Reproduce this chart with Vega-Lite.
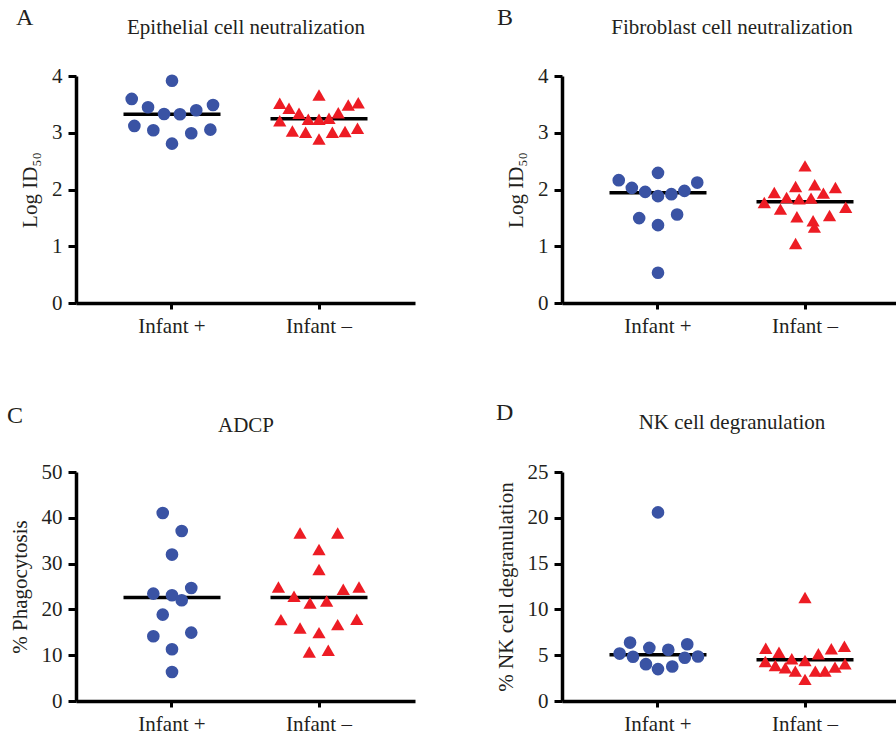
{
 "$schema": "https://vega.github.io/schema/vega-lite/v6.json",
 "padding": {"left": 7, "top": 6, "right": 0, "bottom": 0},
 "background": "white",
 "config": {
  "font": "Liberation Serif",
  "view": {"stroke": null},
  "axis": {"labelFont": "Liberation Serif", "titleFont": "Liberation Serif, DejaVu Serif", "labelColor": "#231f20", "titleColor": "#231f20", "labelFontSize": 21, "titleFontSize": 21, "titleFontWeight": "normal", "domainColor": "#000000", "domainWidth": 3.5, "tickColor": "#000000", "grid": false},
  "axisY": {"tickSize": 8, "tickWidth": 3, "labelPadding": 6, "titlePadding": 11},
  "axisBottom": {"tickSize": 6, "tickWidth": 3, "labelPadding": 6},
  "title": {"font": "Liberation Serif", "fontSize": 24, "fontWeight": "normal", "color": "#231f20", "anchor": "start", "frame": "group", "baseline": "alphabetic", "offset": -14}
 },
 "datasets": {
  "points": [
   {"panel": "A", "group": "Infant +", "jitter": -0.274, "value": 3.596},
   {"panel": "A", "group": "Infant +", "jitter": -0.163, "value": 3.449},
   {"panel": "A", "group": "Infant +", "jitter": -0.054, "value": 3.331},
   {"panel": "A", "group": "Infant +", "jitter": 0.054, "value": 3.326},
   {"panel": "A", "group": "Infant +", "jitter": 0.165, "value": 3.396},
   {"panel": "A", "group": "Infant +", "jitter": 0.279, "value": 3.489},
   {"panel": "A", "group": "Infant +", "jitter": -0.256, "value": 3.120},
   {"panel": "A", "group": "Infant +", "jitter": -0.127, "value": 3.044},
   {"panel": "A", "group": "Infant +", "jitter": 0, "value": 2.808},
   {"panel": "A", "group": "Infant +", "jitter": 0.131, "value": 2.991},
   {"panel": "A", "group": "Infant +", "jitter": 0.261, "value": 3.055},
   {"panel": "A", "group": "Infant +", "jitter": 0, "value": 3.917},
   {"panel": "A", "group": "Infant –", "jitter": -0.267, "value": 3.519},
   {"panel": "A", "group": "Infant –", "jitter": -0.204, "value": 3.431},
   {"panel": "A", "group": "Infant –", "jitter": -0.136, "value": 3.343},
   {"panel": "A", "group": "Infant –", "jitter": 0, "value": 3.665},
   {"panel": "A", "group": "Infant –", "jitter": -0.073, "value": 3.238},
   {"panel": "A", "group": "Infant –", "jitter": 0, "value": 3.238},
   {"panel": "A", "group": "Infant –", "jitter": 0.068, "value": 3.255},
   {"panel": "A", "group": "Infant –", "jitter": 0.131, "value": 3.354},
   {"panel": "A", "group": "Infant –", "jitter": 0.199, "value": 3.489},
   {"panel": "A", "group": "Infant –", "jitter": 0.267, "value": 3.530},
   {"panel": "A", "group": "Infant –", "jitter": -0.267, "value": 3.213},
   {"panel": "A", "group": "Infant –", "jitter": -0.181, "value": 3.032},
   {"panel": "A", "group": "Infant –", "jitter": -0.091, "value": 3.009},
   {"panel": "A", "group": "Infant –", "jitter": 0, "value": 2.891},
   {"panel": "A", "group": "Infant –", "jitter": 0.091, "value": 3.009},
   {"panel": "A", "group": "Infant –", "jitter": 0.177, "value": 3.023},
   {"panel": "A", "group": "Infant –", "jitter": 0.262, "value": 3.079},
   {"panel": "B", "group": "Infant +", "jitter": -0.267, "value": 2.164},
   {"panel": "B", "group": "Infant +", "jitter": 0, "value": 2.293},
   {"panel": "B", "group": "Infant +", "jitter": -0.178, "value": 2.029},
   {"panel": "B", "group": "Infant +", "jitter": -0.087, "value": 1.958},
   {"panel": "B", "group": "Infant +", "jitter": 0, "value": 1.883},
   {"panel": "B", "group": "Infant +", "jitter": 0.091, "value": 1.918},
   {"panel": "B", "group": "Infant +", "jitter": 0.180, "value": 1.976},
   {"panel": "B", "group": "Infant +", "jitter": 0.267, "value": 2.122},
   {"panel": "B", "group": "Infant +", "jitter": -0.128, "value": 1.496},
   {"panel": "B", "group": "Infant +", "jitter": 0, "value": 1.372},
   {"panel": "B", "group": "Infant +", "jitter": 0.130, "value": 1.559},
   {"panel": "B", "group": "Infant +", "jitter": 0, "value": 0.533},
   {"panel": "B", "group": "Infant –", "jitter": 0, "value": 2.416},
   {"panel": "B", "group": "Infant –", "jitter": -0.209, "value": 1.946},
   {"panel": "B", "group": "Infant –", "jitter": -0.064, "value": 2.052},
   {"panel": "B", "group": "Infant –", "jitter": 0.066, "value": 2.082},
   {"panel": "B", "group": "Infant –", "jitter": 0.207, "value": 2.034},
   {"panel": "B", "group": "Infant –", "jitter": -0.277, "value": 1.770},
   {"panel": "B", "group": "Infant –", "jitter": -0.125, "value": 1.858},
   {"panel": "B", "group": "Infant –", "jitter": -0.040, "value": 1.835},
   {"panel": "B", "group": "Infant –", "jitter": 0.041, "value": 1.848},
   {"panel": "B", "group": "Infant –", "jitter": 0.125, "value": 1.936},
   {"panel": "B", "group": "Infant –", "jitter": 0.277, "value": 1.689},
   {"panel": "B", "group": "Infant –", "jitter": -0.167, "value": 1.654},
   {"panel": "B", "group": "Infant –", "jitter": -0.055, "value": 1.519},
   {"panel": "B", "group": "Infant –", "jitter": 0.055, "value": 1.448},
   {"panel": "B", "group": "Infant –", "jitter": 0.167, "value": 1.541},
   {"panel": "B", "group": "Infant –", "jitter": 0.064, "value": 1.337},
   {"panel": "B", "group": "Infant –", "jitter": -0.064, "value": 1.049},
   {"panel": "C", "group": "Infant +", "jitter": -0.063, "value": 41.05},
   {"panel": "C", "group": "Infant +", "jitter": 0.066, "value": 37.12},
   {"panel": "C", "group": "Infant +", "jitter": 0, "value": 31.97},
   {"panel": "C", "group": "Infant +", "jitter": -0.127, "value": 23.45},
   {"panel": "C", "group": "Infant +", "jitter": 0, "value": 23.08},
   {"panel": "C", "group": "Infant +", "jitter": 0.066, "value": 21.99},
   {"panel": "C", "group": "Infant +", "jitter": 0.131, "value": 24.67},
   {"panel": "C", "group": "Infant +", "jitter": -0.063, "value": 18.86},
   {"panel": "C", "group": "Infant +", "jitter": -0.127, "value": 14.13},
   {"panel": "C", "group": "Infant +", "jitter": 0.131, "value": 14.93},
   {"panel": "C", "group": "Infant +", "jitter": 0, "value": 11.29},
   {"panel": "C", "group": "Infant +", "jitter": 0, "value": 6.33},
   {"panel": "C", "group": "Infant –", "jitter": -0.129, "value": 36.68},
   {"panel": "C", "group": "Infant –", "jitter": 0.127, "value": 36.68},
   {"panel": "C", "group": "Infant –", "jitter": 0, "value": 33.06},
   {"panel": "C", "group": "Infant –", "jitter": 0, "value": 28.69},
   {"panel": "C", "group": "Infant –", "jitter": -0.276, "value": 24.89},
   {"panel": "C", "group": "Infant –", "jitter": -0.170, "value": 22.86},
   {"panel": "C", "group": "Infant –", "jitter": -0.061, "value": 21.40},
   {"panel": "C", "group": "Infant –", "jitter": 0.052, "value": 21.83},
   {"panel": "C", "group": "Infant –", "jitter": 0.165, "value": 24.39},
   {"panel": "C", "group": "Infant –", "jitter": 0.272, "value": 24.89},
   {"panel": "C", "group": "Infant –", "jitter": -0.259, "value": 17.77},
   {"panel": "C", "group": "Infant –", "jitter": -0.129, "value": 15.94},
   {"panel": "C", "group": "Infant –", "jitter": 0, "value": 14.93},
   {"panel": "C", "group": "Infant –", "jitter": 0.127, "value": 16.68},
   {"panel": "C", "group": "Infant –", "jitter": 0.257, "value": 17.84},
   {"panel": "C", "group": "Infant –", "jitter": -0.066, "value": 10.70},
   {"panel": "C", "group": "Infant –", "jitter": 0.063, "value": 11.07},
   {"panel": "D", "group": "Infant +", "jitter": 0, "value": 20.59},
   {"panel": "D", "group": "Infant +", "jitter": -0.190, "value": 6.38},
   {"panel": "D", "group": "Infant +", "jitter": -0.059, "value": 5.80},
   {"panel": "D", "group": "Infant +", "jitter": 0.070, "value": 5.59},
   {"panel": "D", "group": "Infant +", "jitter": 0.199, "value": 6.20},
   {"panel": "D", "group": "Infant +", "jitter": -0.261, "value": 5.18},
   {"panel": "D", "group": "Infant +", "jitter": -0.170, "value": 4.83},
   {"panel": "D", "group": "Infant +", "jitter": 0.182, "value": 4.72},
   {"panel": "D", "group": "Infant +", "jitter": 0.272, "value": 4.86},
   {"panel": "D", "group": "Infant +", "jitter": -0.082, "value": 4.02},
   {"panel": "D", "group": "Infant +", "jitter": 0.097, "value": 3.77},
   {"panel": "D", "group": "Infant +", "jitter": 0, "value": 3.48},
   {"panel": "D", "group": "Infant –", "jitter": 0, "value": 11.30},
   {"panel": "D", "group": "Infant –", "jitter": -0.267, "value": 5.76},
   {"panel": "D", "group": "Infant –", "jitter": -0.177, "value": 5.33},
   {"panel": "D", "group": "Infant –", "jitter": 0.091, "value": 5.15},
   {"panel": "D", "group": "Infant –", "jitter": 0.179, "value": 5.70},
   {"panel": "D", "group": "Infant –", "jitter": 0.268, "value": 5.98},
   {"panel": "D", "group": "Infant –", "jitter": -0.270, "value": 4.32},
   {"panel": "D", "group": "Infant –", "jitter": -0.090, "value": 4.61},
   {"panel": "D", "group": "Infant –", "jitter": 0, "value": 4.42},
   {"panel": "D", "group": "Infant –", "jitter": 0.272, "value": 4.07},
   {"panel": "D", "group": "Infant –", "jitter": -0.202, "value": 3.88},
   {"panel": "D", "group": "Infant –", "jitter": -0.134, "value": 3.63},
   {"panel": "D", "group": "Infant –", "jitter": -0.066, "value": 3.26},
   {"panel": "D", "group": "Infant –", "jitter": 0.070, "value": 3.26},
   {"panel": "D", "group": "Infant –", "jitter": 0.136, "value": 3.26},
   {"panel": "D", "group": "Infant –", "jitter": 0.204, "value": 3.70},
   {"panel": "D", "group": "Infant –", "jitter": 0, "value": 2.36}
  ],
  "medians": [
   {"panel": "A", "group": "Infant +", "value": 3.328},
   {"panel": "A", "group": "Infant –", "value": 3.248},
   {"panel": "B", "group": "Infant +", "value": 1.941},
   {"panel": "B", "group": "Infant –", "value": 1.782},
   {"panel": "C", "group": "Infant +", "value": 22.58},
   {"panel": "C", "group": "Infant –", "value": 22.58},
   {"panel": "D", "group": "Infant +", "value": 5.04},
   {"panel": "D", "group": "Infant –", "value": 4.50}
  ]
 },
 "columns": 2,
 "spacing": {"row": 65, "column": 80},
 "concat": [
  {
   "width": 339, "height": 227,
   "title": {"text": "A", "dx": -60},
   "resolve": {"axis": {"x": "independent"}},
   "layer": [
    {
     "data": {"name": "medians"},
     "transform": [{"filter": "datum.panel === 'A'"}],
     "mark": {"type": "tick", "orient": "horizontal", "size": 97, "thickness": 3.5, "color": "#000000", "opacity": 1},
     "encoding": {
      "x": {"field": "group", "type": "nominal", "sort": ["Infant +", "Infant –"], "scale": {"type": "band", "paddingInner": 0, "paddingOuter": 0.153}, "axis": {"orient": "top", "domain": false, "ticks": false, "labels": false, "title": "Epithelial cell neutralization", "titlePadding": 39}},
      "y": {"field": "value", "type": "quantitative", "scale": {"domain": [0, 4], "nice": false}, "axis": {"title": "Log ID₅₀", "values": [0, 1, 2, 3, 4]}}
     }
    },
    {
     "data": {"name": "points"},
     "transform": [{"filter": "datum.panel === 'A'"}],
     "mark": {"type": "point", "filled": true, "opacity": 1, "strokeWidth": 0},
     "encoding": {
      "x": {"field": "group", "type": "nominal", "sort": ["Infant +", "Infant –"], "bandPosition": 0, "scale": {"type": "band", "paddingInner": 0, "paddingOuter": 0.153}, "axis": {"orient": "bottom", "title": null, "labelAngle": 0}},
      "xOffset": {"field": "jitter", "type": "quantitative", "scale": {"domain": [-0.5, 0.5]}},
      "y": {"field": "value", "type": "quantitative", "scale": {"domain": [0, 4], "nice": false}, "axis": {"title": "Log ID₅₀", "values": [0, 1, 2, 3, 4]}},
      "color": {"field": "group", "type": "nominal", "scale": {"domain": ["Infant +", "Infant –"], "range": ["#3A53A4", "#ED1C24"]}, "legend": null},
      "shape": {"field": "group", "type": "nominal", "scale": {"domain": ["Infant +", "Infant –"], "range": ["circle", "triangle-up"]}, "legend": null},
      "size": {"field": "group", "type": "ordinal", "scale": {"domain": ["Infant +", "Infant –"], "range": [160, 175]}, "legend": null}
     }
    }
   ]
  },
  {
   "width": 339, "height": 227,
   "title": {"text": "B", "dx": -65},
   "resolve": {"axis": {"x": "independent"}},
   "layer": [
    {
     "data": {"name": "medians"},
     "transform": [{"filter": "datum.panel === 'B'"}],
     "mark": {"type": "tick", "orient": "horizontal", "size": 97, "thickness": 3.5, "color": "#000000", "opacity": 1},
     "encoding": {
      "x": {"field": "group", "type": "nominal", "sort": ["Infant +", "Infant –"], "scale": {"type": "band", "paddingInner": 0, "paddingOuter": 0.153}, "axis": {"orient": "top", "domain": false, "ticks": false, "labels": false, "title": "Fibroblast cell neutralization", "titlePadding": 39}},
      "y": {"field": "value", "type": "quantitative", "scale": {"domain": [0, 4], "nice": false}, "axis": {"title": "Log ID₅₀", "values": [0, 1, 2, 3, 4]}}
     }
    },
    {
     "data": {"name": "points"},
     "transform": [{"filter": "datum.panel === 'B'"}],
     "mark": {"type": "point", "filled": true, "opacity": 1, "strokeWidth": 0},
     "encoding": {
      "x": {"field": "group", "type": "nominal", "sort": ["Infant +", "Infant –"], "bandPosition": 0, "scale": {"type": "band", "paddingInner": 0, "paddingOuter": 0.153}, "axis": {"orient": "bottom", "title": null, "labelAngle": 0}},
      "xOffset": {"field": "jitter", "type": "quantitative", "scale": {"domain": [-0.5, 0.5]}},
      "y": {"field": "value", "type": "quantitative", "scale": {"domain": [0, 4], "nice": false}, "axis": {"title": "Log ID₅₀", "values": [0, 1, 2, 3, 4]}},
      "color": {"field": "group", "type": "nominal", "scale": {"domain": ["Infant +", "Infant –"], "range": ["#3A53A4", "#ED1C24"]}, "legend": null},
      "shape": {"field": "group", "type": "nominal", "scale": {"domain": ["Infant +", "Infant –"], "range": ["circle", "triangle-up"]}, "legend": null},
      "size": {"field": "group", "type": "ordinal", "scale": {"domain": ["Infant +", "Infant –"], "range": [160, 175]}, "legend": null}
     }
    }
   ]
  },
  {
   "width": 339, "height": 229,
   "title": {"text": "C", "dx": -69},
   "resolve": {"axis": {"x": "independent"}},
   "layer": [
    {
     "data": {"name": "medians"},
     "transform": [{"filter": "datum.panel === 'C'"}],
     "mark": {"type": "tick", "orient": "horizontal", "size": 97, "thickness": 3.5, "color": "#000000", "opacity": 1},
     "encoding": {
      "x": {"field": "group", "type": "nominal", "sort": ["Infant +", "Infant –"], "scale": {"type": "band", "paddingInner": 0, "paddingOuter": 0.153}, "axis": {"orient": "top", "domain": false, "ticks": false, "labels": false, "title": "ADCP", "titlePadding": 37}},
      "y": {"field": "value", "type": "quantitative", "scale": {"domain": [0, 50], "nice": false}, "axis": {"title": "% Phagocytosis", "values": [0, 10, 20, 30, 40, 50]}}
     }
    },
    {
     "data": {"name": "points"},
     "transform": [{"filter": "datum.panel === 'C'"}],
     "mark": {"type": "point", "filled": true, "opacity": 1, "strokeWidth": 0},
     "encoding": {
      "x": {"field": "group", "type": "nominal", "sort": ["Infant +", "Infant –"], "bandPosition": 0, "scale": {"type": "band", "paddingInner": 0, "paddingOuter": 0.153}, "axis": {"orient": "bottom", "title": null, "labelAngle": 0}},
      "xOffset": {"field": "jitter", "type": "quantitative", "scale": {"domain": [-0.5, 0.5]}},
      "y": {"field": "value", "type": "quantitative", "scale": {"domain": [0, 50], "nice": false}, "axis": {"title": "% Phagocytosis", "values": [0, 10, 20, 30, 40, 50]}},
      "color": {"field": "group", "type": "nominal", "scale": {"domain": ["Infant +", "Infant –"], "range": ["#3A53A4", "#ED1C24"]}, "legend": null},
      "shape": {"field": "group", "type": "nominal", "scale": {"domain": ["Infant +", "Infant –"], "range": ["circle", "triangle-up"]}, "legend": null},
      "size": {"field": "group", "type": "ordinal", "scale": {"domain": ["Infant +", "Infant –"], "range": [160, 175]}, "legend": null}
     }
    }
   ]
  },
  {
   "width": 339, "height": 229,
   "title": {"text": "D", "dx": -66},
   "resolve": {"axis": {"x": "independent"}},
   "layer": [
    {
     "data": {"name": "medians"},
     "transform": [{"filter": "datum.panel === 'D'"}],
     "mark": {"type": "tick", "orient": "horizontal", "size": 97, "thickness": 3.5, "color": "#000000", "opacity": 1},
     "encoding": {
      "x": {"field": "group", "type": "nominal", "sort": ["Infant +", "Infant –"], "scale": {"type": "band", "paddingInner": 0, "paddingOuter": 0.153}, "axis": {"orient": "top", "domain": false, "ticks": false, "labels": false, "title": "NK cell degranulation", "titlePadding": 40}},
      "y": {"field": "value", "type": "quantitative", "scale": {"domain": [0, 25], "nice": false}, "axis": {"title": "% NK cell degranulation", "values": [0, 5, 10, 15, 20, 25]}}
     }
    },
    {
     "data": {"name": "points"},
     "transform": [{"filter": "datum.panel === 'D'"}],
     "mark": {"type": "point", "filled": true, "opacity": 1, "strokeWidth": 0},
     "encoding": {
      "x": {"field": "group", "type": "nominal", "sort": ["Infant +", "Infant –"], "bandPosition": 0, "scale": {"type": "band", "paddingInner": 0, "paddingOuter": 0.153}, "axis": {"orient": "bottom", "title": null, "labelAngle": 0}},
      "xOffset": {"field": "jitter", "type": "quantitative", "scale": {"domain": [-0.5, 0.5]}},
      "y": {"field": "value", "type": "quantitative", "scale": {"domain": [0, 25], "nice": false}, "axis": {"title": "% NK cell degranulation", "values": [0, 5, 10, 15, 20, 25]}},
      "color": {"field": "group", "type": "nominal", "scale": {"domain": ["Infant +", "Infant –"], "range": ["#3A53A4", "#ED1C24"]}, "legend": null},
      "shape": {"field": "group", "type": "nominal", "scale": {"domain": ["Infant +", "Infant –"], "range": ["circle", "triangle-up"]}, "legend": null},
      "size": {"field": "group", "type": "ordinal", "scale": {"domain": ["Infant +", "Infant –"], "range": [160, 175]}, "legend": null}
     }
    }
   ]
  }
 ]
}
